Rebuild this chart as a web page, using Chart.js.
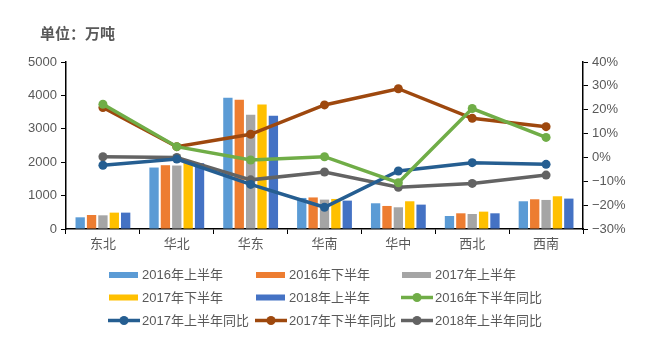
<!DOCTYPE html>
<html>
<head>
<meta charset="utf-8">
<script src="https://cdn.jsdelivr.net/npm/chart.js@4"></script>
<style>
  html, body { margin: 0; padding: 0; background: #fff; }
  #wrap { width: 653px; height: 339px; position: relative; }
</style>
</head>
<body>
<div id="wrap"><canvas id="regionChart"></canvas></div>
<script>
const FONT = '"Liberation Sans", "Noto Sans CJK SC", sans-serif';
const TEXT_COLOR = "#595959";

// categories
const regions = ["东北", "华北", "华东", "华南", "华中", "西北", "西南"];

// bar series (万吨)
const h1_2016 = [350, 1840, 3930, 930, 770, 390, 830];
const h2_2016 = [420, 1910, 3870, 945, 690, 470, 890];
const h1_2017 = [410, 1900, 3420, 880, 650, 450, 870];
const h2_2017 = [490, 1980, 3730, 900, 830, 520, 980];
const h1_2018 = [490, 1970, 3390, 850, 730, 470, 910];

// line series (同比, %)
const yoy_h2_2016 = [22.3, 4.5, -1.1, 0.3, -10.6, 20.5, 8.4];
const yoy_h1_2017 = [-3.3, -0.7, -11.3, -20.9, -5.7, -2.2, -2.9];
const yoy_h2_2017 = [20.9, 4.5, 9.7, 22.0, 28.8, 16.4, 12.9];
const yoy_h1_2018 = [0.3, 0.0, -9.4, -6.1, -12.5, -10.9, -7.4];

// tick labels
const leftTicks = [0, 1000, 2000, 3000, 4000, 5000];
const rightTicks = [-30, -20, -10, 0, 10, 20, 30, 40];

function barSet(label, data, color) {
  return {
    type: "bar", label, data, yAxisID: "y",
    backgroundColor: color, borderWidth: 0,
    barPercentage: 0.82, categoryPercentage: 0.77, order: 2
  };
}

function lineSet(label, data, color) {
  return {
    type: "line", label, data, yAxisID: "y1",
    borderColor: color, backgroundColor: color,
    borderWidth: 3.5, pointRadius: 4.5, pointHoverRadius: 4.5,
    pointBorderWidth: 0, tension: 0, order: 1
  };
}

const datasets = [
  barSet("2016年上半年", h1_2016, "#5B9BD5"),
  barSet("2016年下半年", h2_2016, "#ED7D31"),
  barSet("2017年上半年", h1_2017, "#A5A5A5"),
  barSet("2017年下半年", h2_2017, "#FFC000"),
  barSet("2018年上半年", h1_2018, "#4472C4"),
  lineSet("2016年下半年同比", yoy_h2_2016, "#70AD47"),
  lineSet("2017年上半年同比", yoy_h1_2017, "#255E91"),
  lineSet("2017年下半年同比", yoy_h2_2017, "#9E480E"),
  lineSet("2018年上半年同比", yoy_h1_2018, "#636363"),
];

// Title + 3-column legend drawn on the canvas
const decorPlugin = {
  id: "decor",
  afterDraw(chart) {
    const c = chart.ctx;
    c.save();
    c.fillStyle = TEXT_COLOR;
    c.font = "bold 15px " + FONT;
    c.textBaseline = "middle";
    c.textAlign = "left";
    c.fillText("单位：万吨", 40, 35);

    const colX = [108, 255, 401];
    const rowY = [275, 297.5, 320.5];
    c.font = "13px " + FONT;
    chart.data.datasets.forEach((ds, i) => {
      const x = colX[i % 3];
      const y = rowY[Math.floor(i / 3)];
      if (ds.type === "bar") {
        c.fillStyle = ds.backgroundColor;
        c.fillRect(x + 1, y - 3, 29, 6);
      } else {
        c.strokeStyle = ds.borderColor;
        c.lineWidth = 3.5;
        c.beginPath();
        c.moveTo(x, y);
        c.lineTo(x + 32, y);
        c.stroke();
        c.fillStyle = ds.borderColor;
        c.beginPath();
        c.arc(x + 16, y, 4.5, 0, Math.PI * 2);
        c.fill();
      }
      c.fillStyle = TEXT_COLOR;
      c.fillText(ds.label, x + 34, y + 0.5);
    });
    c.restore();
  }
};

const ctx = document.getElementById("regionChart");

new Chart(ctx, {
  data: { labels: regions, datasets },
  plugins: [decorPlugin],
  options: {
    responsive: true,
    maintainAspectRatio: false,
    animation: false,
    layout: { padding: { top: 62, bottom: 80, left: 0, right: 0 } },
    plugins: {
      legend: { display: false },
      tooltip: { enabled: false }
    },
    scales: {
      x: {
        offset: true,
        grid: {
          offset: true, drawOnChartArea: false,
          color: "#000", tickLength: 5, lineWidth: 1
        },
        border: { color: "#000", width: 1.5 },
        ticks: { color: TEXT_COLOR, font: { family: FONT, size: 13 }, padding: 3 },
        afterFit(scale) { scale.height = 30; }
      },
      y: {
        position: "left",
        min: 0, max: 5000,
        afterBuildTicks(scale) { scale.ticks = leftTicks.map(v => ({ value: v })); },
        grid: { drawOnChartArea: false, color: "#000", tickLength: 5 },
        border: { color: "#000", width: 1.5 },
        ticks: {
          color: TEXT_COLOR, font: { family: FONT, size: 13 }, padding: 4,
          callback: v => String(v)
        },
        afterFit(scale) { scale.width = 66; }
      },
      y1: {
        position: "right",
        min: -30, max: 40,
        afterBuildTicks(scale) { scale.ticks = rightTicks.map(v => ({ value: v })); },
        grid: { drawOnChartArea: false, color: "#000", tickLength: 5 },
        border: { color: "#000", width: 1.5 },
        ticks: {
          color: TEXT_COLOR, font: { family: FONT, size: 13 }, padding: 4,
          callback: v => (v < 0 ? "\u2212" + Math.abs(v) : v) + "%"
        },
        afterFit(scale) { scale.width = 70; }
      }
    }
  }
});
</script>
</body>
</html>
